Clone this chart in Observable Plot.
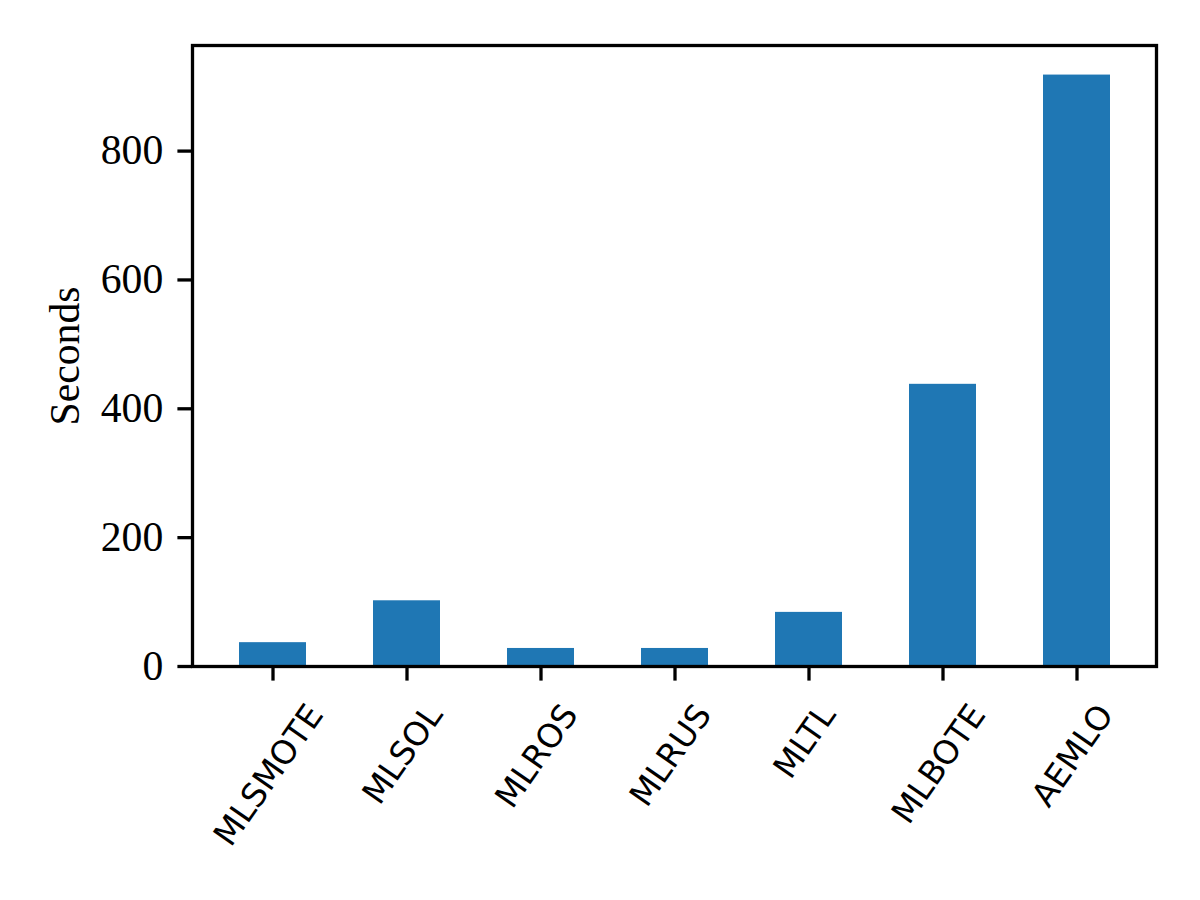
<!DOCTYPE html>
<html>
<head>
<meta charset="utf-8">
<script src="https://cdn.jsdelivr.net/npm/d3@7"></script>
<script src="https://cdn.jsdelivr.net/npm/@observablehq/plot@0.6"></script>
<style>
  html, body { margin: 0; padding: 0; background: #fff; }
</style>
</head>
<body>
<div id="chart"></div>
<script>
const methods = ["MLSMOTE", "MLSOL", "MLROS", "MLRUS", "MLTL", "MLBOTE", "AEMLO"];
const seconds = [37, 102, 28, 28, 84, 438, 918];
const yTicks = [0, 200, 400, 600, 800];
const yLabel = "Seconds";

const data = methods.map((m, i) => ({method: m, seconds: seconds[i]}));

const xFont = "DejaVu Sans";
const xFontSize = 33;
const ctx = document.createElement("canvas").getContext("2d");
ctx.font = `${xFontSize}px "${xFont}"`;
const ang = 55 * Math.PI / 180;

const labelMarks = methods.map(m => {
  const L = ctx.measureText(m).width;
  const h = xFontSize * 1.17;
  const dy = 31 + (L * Math.sin(ang) + h * Math.cos(ang)) / 2;
  return Plot.text([m], {
    x: d => d, frameAnchor: "bottom", dy, dx: -4, rotate: -55,
    textAnchor: "middle", lineAnchor: "middle",
    fontFamily: xFont, fontSize: xFontSize, fill: "black"
  });
});

const chart = Plot.plot({
  width: 1200,
  height: 900,
  marginTop: 45,
  marginBottom: 234,
  marginLeft: 192,
  marginRight: 44,
  style: {fontFamily: "'Liberation Serif'", fontSize: "41.7px", color: "black", background: "white"},
  x: {domain: methods, paddingInner: 0.5, paddingOuter: 0.333, axis: null},
  y: {domain: [0, Math.max(...seconds) * 1.05], axis: null},
  marks: [
    Plot.barY(data, {x: "method", y: "seconds", fill: "#1f77b4"}),
    Plot.axisY({ticks: yTicks, tickSize: 14.6, tickPadding: 14.6, strokeWidth: 3.3, label: null,
      fontFamily: "'Liberation Serif'", fontSize: 41.7}),
    Plot.axisX({tickSize: 14.6, strokeWidth: 3.3, tickFormat: () => "", label: null}),
    ...labelMarks,
    Plot.text([yLabel], {frameAnchor: "left", dx: -127, rotate: -90, textAnchor: "middle", lineAnchor: "middle",
      fontFamily: "'Liberation Serif'", fontSize: 41.7, fill: "black"}),
    Plot.frame({stroke: "black", strokeWidth: 3.3})
  ]
});
document.getElementById("chart").appendChild(chart);
</script>
</body>
</html>
